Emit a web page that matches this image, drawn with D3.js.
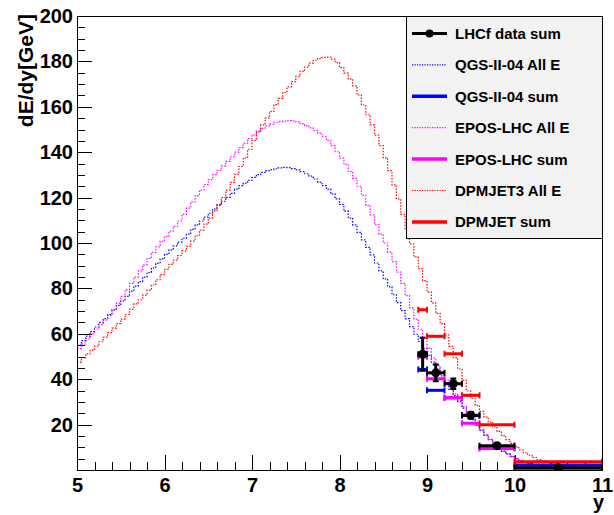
<!DOCTYPE html>
<html>
<head>
<meta charset="utf-8">
<style>
    body { margin: 0; background: #fff; }
    svg text { font-family: "Liberation Sans", Arial, Helvetica, sans-serif; font-weight: bold; fill: #000; }
</style>
</head>
<body>
<div id="chart"></div>
<script src="https://cdnjs.cloudflare.com/ajax/libs/d3/7.8.5/d3.min.js"></script>
<script>

    var w = 614;
    var h = 515;
    var padLeft = 77, padRight = 602, padTop = 16, padBottom = 470;

    // "All E" histograms: 120 bins of 0.05 from y=5 to y=11 (one row = 0.5 in y)
    var allEStart = 5.0;
    var allEWidth = 0.05;

    var qgsAllE = [
        55, 57, 59, 61, 63, 65, 66.7, 68.5, 70.5, 72.5,
        74.5, 76.5, 78.8, 81, 83, 85, 87, 89, 91, 93,
        95, 97, 98.7, 100.4, 102.1, 103.9, 106, 108, 109.7, 111.4,
        113.1, 114.9, 116.6, 118.4, 120.1, 121.9, 123.7, 125.3, 126.4, 127.6,
        128.9, 130.1, 131.1, 131.9, 132.3, 132.7, 133.1, 133.3, 133.2, 132.8,
        132.2, 131.4, 130.5, 129.5, 128.2, 126.8, 125.3, 123.7, 121.6, 119.4,
        117, 114, 111, 108, 104.7, 101.4, 98.1, 94.8, 91.2, 87.7,
        84.2, 80.7, 77.2, 73.7, 70.2, 66.7, 63.2, 59.8, 56.6, 53.5,
        50.5, 47.5, 44.5, 41.5, 38.5, 35.5, 32.8, 30.1, 27.3, 24.6,
        22.2, 19.8, 17.6, 15.4, 13.4, 11.5, 9.8, 8.3, 7.1, 6,
        5, 4.1, 3.5, 2.9, 2.4, 2, 1.7, 1.35, 1.1, 0.9,
        0.7, 0.55, 0.45, 0.35, 0.28, 0.22, 0.17, 0.13, 0.1, 0.08];

    var eposAllE = [
        53.5, 55.5, 57.8, 60, 62, 64, 66, 68, 70.5, 73.5,
        76.5, 79.5, 82.2, 85, 87.7, 90.4, 93.2, 95.9, 98.3, 100.7,
        102.9, 105.2, 107.3, 109.7, 112.6, 115.4, 118.1, 120.9, 123.3, 125.7,
        127.9, 130.1, 132, 134, 136, 138, 140, 142, 144, 146,
        147.6, 149.3, 150.5, 151.6, 152.4, 153.2, 153.5, 153.7, 153.9, 153.8,
        153.4, 152.6, 151.7, 150.7, 149.6, 148.4, 146.8, 145.2, 142.8, 140.2,
        137.4, 134.6, 131.5, 128.5, 125, 121, 116.6, 112.4, 108.1, 103.9,
        100, 96, 91.8, 87.2, 82.2, 76.8, 71.5, 66.5, 62, 58,
        53.7, 49.3, 46, 43, 39.6, 36.4, 33.5, 30.5, 27.9, 25.1,
        22.4, 19.6, 17.6, 15.4, 13.5, 11.5, 9.8, 8.2, 7.1, 5.9,
        5, 4, 3.5, 2.9, 2.4, 2, 1.7, 1.3, 1.1, 0.9,
        0.7, 0.5, 0.42, 0.34, 0.25, 0.18, 0.12, 0.08, 0.06, 0.04];

    var dpmAllE = [
        47.5, 49.5, 51.2, 52.8, 54.6, 56.5, 58.5, 60.5, 62.5, 64.5,
        66.5, 68.5, 70.8, 73.2, 75, 77, 79.2, 81.5, 83.8, 86.1,
        88.4, 90.6, 92.5, 94.5, 96.5, 98.5, 100.8, 103.2, 105.7, 108.3,
        111, 114, 117, 120, 123.3, 126.7, 130.2, 133.7, 137.5, 141.3,
        145.2, 148.9, 152, 155, 158, 161, 163.7, 166.3, 168.8, 171.1,
        173.4, 175.6, 177.5, 179.2, 180.5, 181.3, 181.8, 181.9, 181, 179.5,
        177.3, 174.8, 172.2, 169.2, 165.2, 160.8, 156.5, 152, 147.5, 142.9,
        137.5, 131.9, 125.6, 119.4, 112.6, 105.7, 99.6, 93.9, 88.7, 83.4,
        78.4, 73.6, 69, 64.5, 59.5, 54.5, 49.5, 44.5, 39.5, 34.8,
        31.5, 28.5, 25.8, 23.3, 21.1, 19, 17, 15.1, 13.4, 11.7,
        10.2, 8.8, 7.6, 6.5, 5.5, 4.6, 4, 3.5, 3, 2.6,
        2.2, 1.8, 1.5, 1.3, 1.1, 0.9, 0.7, 0.55, 0.45, 0.35];

    // summed spectra in the LHCf bins
    var sumEdges = [8.9, 9.0, 9.2, 9.4, 9.6, 10.0, 11.0];
    var lhcfSum = [51.0, 42.8, 38.0, 24.1, 10.7, 1.0];
    var lhcfErr = [7.3, 3.7, 2.3, 1.5, 1.2, 0.5];
    var qgsSum = [44.3, 35.1, 31.8, 24.0, 9.8, 2.2];
    var eposSum = [49.9, 40.2, 31.9, 20.6, 9.5, 0.6];
    var dpmSum = [70.6, 58.9, 51.2, 32.9, 19.9, 3.6];

    var xTicks = [5, 6, 7, 8, 9, 10, 11];
    var yTicks = [20, 40, 60, 80, 100, 120, 140, 160, 180, 200];

    var legendLabels = ["LHCf data sum", "QGS-II-04 All E", "QGS-II-04 sum",
        "EPOS-LHC All E", "EPOS-LHC sum", "DPMJET3 All E", "DPMJET sum"];

    var blue = "#0000ff", magenta = "#ff00ff", red = "#ff0000";

    var xScale = d3.scaleLinear().domain([5, 11]).range([padLeft, padRight]);
    var yScale = d3.scaleLinear().domain([0, 200]).range([padBottom, padTop]);

    var svg = d3.select("#chart")
        .append("svg")
        .attr("width", w)
        .attr("height", h);

    svg.append("defs").append("clipPath")
        .attr("id", "plot-clip")
        .append("rect")
        .attr("x", padLeft).attr("y", padTop)
        .attr("width", padRight - padLeft).attr("height", padBottom - padTop);

    // axes: ticks point inwards like ROOT
    var xMinor = d3.range(5, 11.001, 0.2).map(function (d) { return +d.toFixed(1); });
    var yMinor = d3.range(0, 200.1, 5);

    svg.append("g")
        .attr("transform", "translate(0," + padBottom + ")")
        .call(d3.axisBottom(xScale).tickValues(xMinor).tickSize(-8).tickFormat(""))
        .call(function (g) { g.select(".domain").remove(); });

    svg.append("g")
        .attr("class", "x-axis")
        .attr("transform", "translate(0," + padBottom + ")")
        .call(d3.axisBottom(xScale).tickValues(xTicks).tickSize(-15).tickPadding(8).tickFormat(d3.format("d")))
        .call(function (g) { g.select(".domain").remove(); });

    svg.append("g")
        .attr("transform", "translate(" + padLeft + ",0)")
        .call(d3.axisLeft(yScale).tickValues(yMinor).tickSize(-8).tickFormat(""))
        .call(function (g) { g.select(".domain").remove(); });

    svg.append("g")
        .attr("class", "y-axis")
        .attr("transform", "translate(" + padLeft + ",0)")
        .call(d3.axisLeft(yScale).tickValues(yTicks).tickSize(-15).tickPadding(4).tickFormat(d3.format("d")))
        .call(function (g) { g.select(".domain").remove(); });

    svg.selectAll(".tick line").attr("stroke", "#000").attr("shape-rendering", "crispEdges");
    svg.selectAll(".x-axis text, .y-axis text")
        .attr("font-size", 20)
        .attr("font-family", "Liberation Sans, Arial, sans-serif")
        .attr("font-weight", "bold");

    // axis titles
    svg.append("text")
        .attr("transform", "translate(33,14) rotate(-90)")
        .attr("text-anchor", "end")
        .attr("font-size", 21)
        .text("dE/dy[GeV]");

    svg.append("text")
        .attr("x", 604)
        .attr("y", 509)
        .attr("text-anchor", "end")
        .attr("font-size", 20)
        .text("y");

    var plot = svg.append("g").attr("clip-path", "url(#plot-clip)");

    // histogram drawn as steps
    var stepLine = d3.line()
        .x(function (d) { return xScale(d[0]); })
        .y(function (d) { return yScale(d[1]); })
        .curve(d3.curveStepAfter);

    function histPoints(vals) {
        var pts = vals.map(function (v, i) { return [allEStart + i * allEWidth, v]; });
        pts.push([allEStart + vals.length * allEWidth, vals[vals.length - 1]]);
        return pts;
    }

    [[qgsAllE, blue], [eposAllE, magenta], [dpmAllE, red]].forEach(function (s) {
        plot.append("path")
            .datum(histPoints(s[0]))
            .attr("d", stepLine)
            .attr("fill", "none")
            .attr("stroke", s[1])
            .attr("stroke-width", 1.2)
            .attr("stroke-dasharray", "1.5,1.5");
    });

    // thick horizontal bars with small end caps
    function drawSum(vals, color) {
        var g = plot.append("g");
        vals.forEach(function (v, i) {
            var x0 = xScale(sumEdges[i]), x1 = xScale(sumEdges[i + 1]), yy = yScale(v);
            g.append("line")
                .attr("x1", x0).attr("x2", x1).attr("y1", yy).attr("y2", yy)
                .attr("stroke", color).attr("stroke-width", 3);
            [x0, x1].forEach(function (xc) {
                g.append("line")
                    .attr("x1", xc).attr("x2", xc).attr("y1", yy - 3).attr("y2", yy + 3)
                    .attr("stroke", color).attr("stroke-width", 2);
            });
        });
    }

    drawSum(qgsSum, blue);
    drawSum(eposSum, magenta);
    drawSum(dpmSum, red);

    // LHCf data
    var data = lhcfSum.map(function (v, i) {
        return {lo: sumEdges[i], hi: sumEdges[i + 1], v: v, e: lhcfErr[i]};
    });
    drawSum(lhcfSum, "#000");

    var pts = plot.append("g").selectAll("g")
        .data(data)
        .enter()
        .append("g");

    pts.append("line")
        .attr("x1", function (d) { return xScale((d.lo + d.hi) / 2); })
        .attr("x2", function (d) { return xScale((d.lo + d.hi) / 2); })
        .attr("y1", function (d) { return yScale(d.v - d.e); })
        .attr("y2", function (d) { return yScale(d.v + d.e); })
        .attr("stroke", "#000")
        .attr("stroke-width", 3);

    [1, -1].forEach(function (sgn) {
        pts.append("line")
            .attr("x1", function (d) { return xScale((d.lo + d.hi) / 2) - 3; })
            .attr("x2", function (d) { return xScale((d.lo + d.hi) / 2) + 3; })
            .attr("y1", function (d) { return yScale(d.v + sgn * d.e); })
            .attr("y2", function (d) { return yScale(d.v + sgn * d.e); })
            .attr("stroke", "#000")
            .attr("stroke-width", 2);
    });

    pts.append("circle")
        .attr("cx", function (d) { return xScale((d.lo + d.hi) / 2); })
        .attr("cy", function (d) { return yScale(d.v); })
        .attr("r", 4.5)
        .attr("fill", "#000");

    // frame
    svg.append("rect")
        .attr("x", padLeft).attr("y", padTop)
        .attr("width", padRight - padLeft).attr("height", padBottom - padTop)
        .attr("fill", "none")
        .attr("stroke", "#000")
        .attr("stroke-width", 1)
        .attr("shape-rendering", "crispEdges");

    // legend
    var lx = 406, ly = 16, lw = padRight - 406, lh = 222;
    var legend = svg.append("g");
    legend.append("rect")
        .attr("x", lx).attr("y", ly).attr("width", lw).attr("height", lh)
        .attr("fill", "#f2f2f2")
        .attr("stroke", "#000")
        .attr("stroke-width", 1)
        .attr("shape-rendering", "crispEdges");

    var legendStyle = [
        {color: "#000", width: 3, dash: null, marker: true},
        {color: blue, width: 1.2, dash: "1.2,1.3"},
        {color: blue, width: 3.5, dash: null},
        {color: magenta, width: 1.2, dash: "1.2,1.3"},
        {color: magenta, width: 3.5, dash: null},
        {color: red, width: 1.2, dash: "1.2,1.3"},
        {color: red, width: 3.5, dash: null}
    ];

    legendLabels.forEach(function (label, i) {
        var st = legendStyle[i];
        var cy = 33.5 + i * 31.4;
        legend.append("line")
            .attr("x1", 412).attr("x2", 447).attr("y1", cy).attr("y2", cy)
            .attr("stroke", st.color)
            .attr("stroke-width", st.width)
            .attr("stroke-dasharray", st.dash);
        if (st.marker) {
            legend.append("circle").attr("cx", 429.5).attr("cy", cy).attr("r", 4).attr("fill", "#000");
        }
        legend.append("text")
            .attr("x", 455)
            .attr("y", cy + 5.5)
            .attr("font-size", 15)
            .text(label);
    });

</script>
</body>
</html>
